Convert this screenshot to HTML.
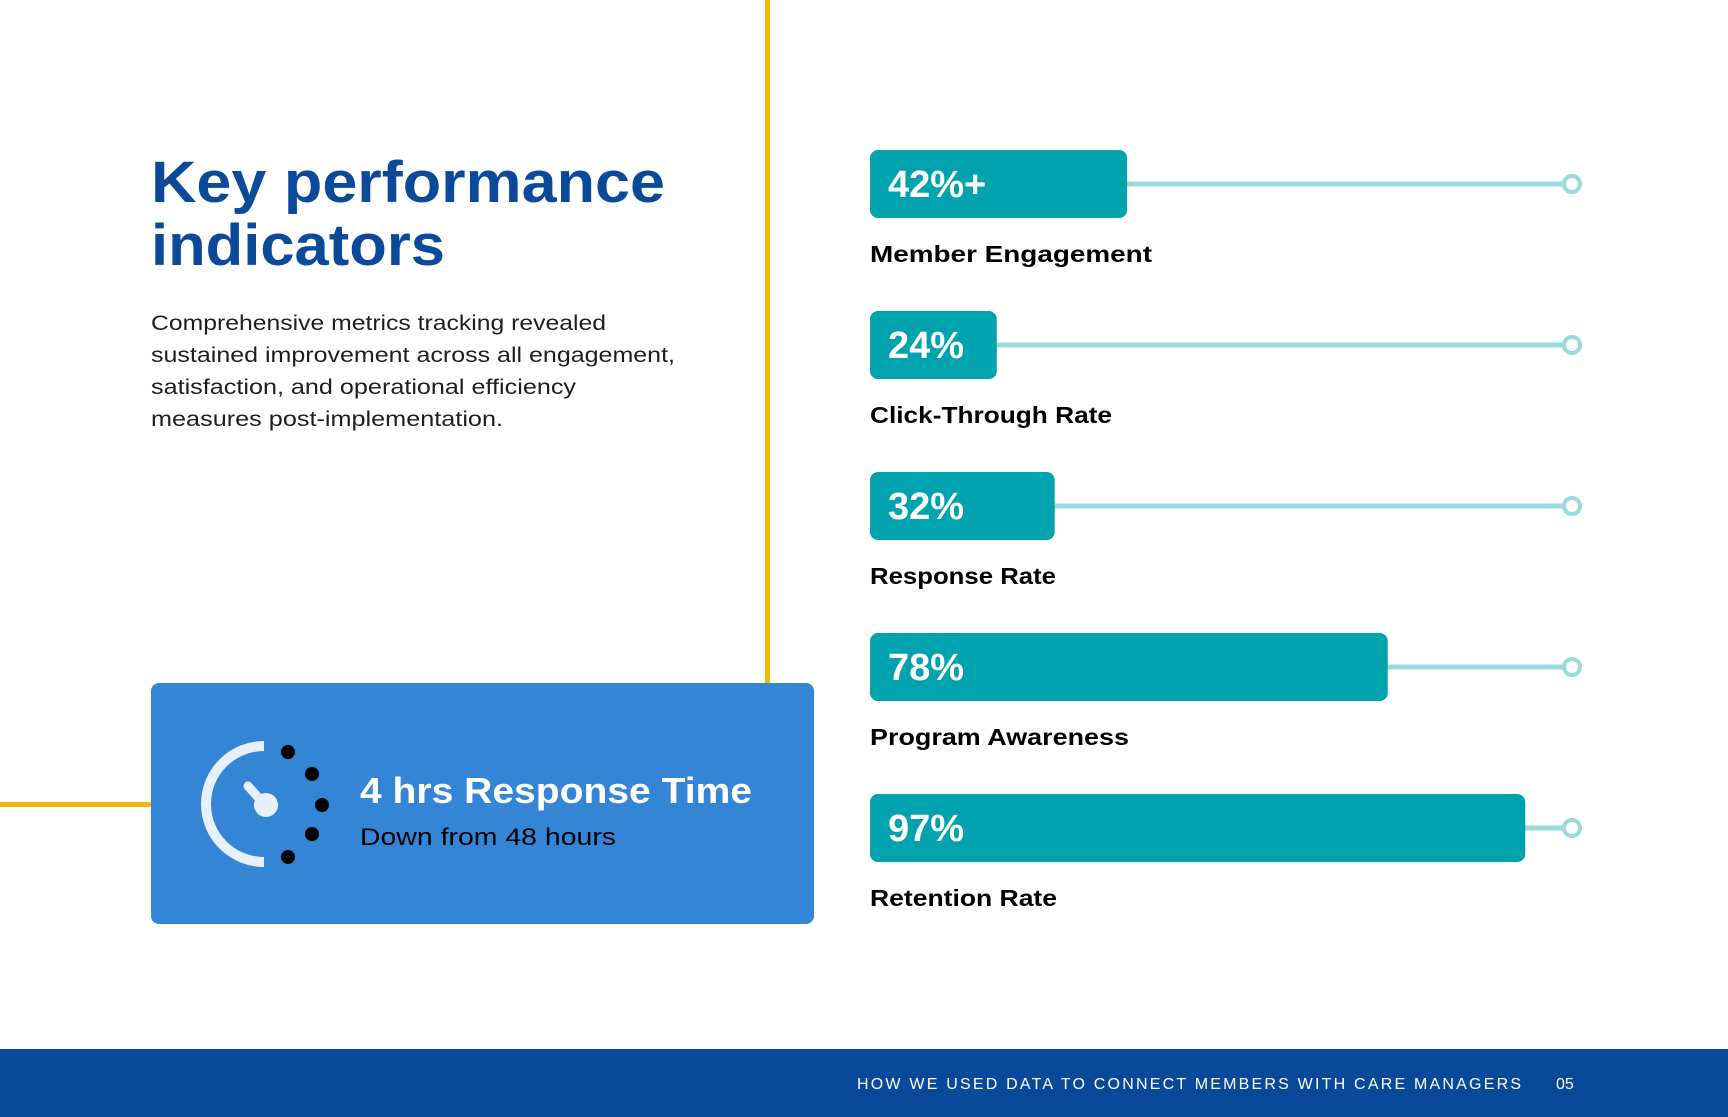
<!DOCTYPE html>
<html><head><meta charset="utf-8"><style>
html,body{margin:0;padding:0;background:#fff;}
svg{display:block;font-family:"Liberation Sans",sans-serif;}
</style></head><body>
<svg id="page" width="1728" height="1117" viewBox="0 0 1728 1117">
  <rect x="765" y="0" width="5" height="683" fill="#f7b500"/>
  <rect x="0" y="802" width="151" height="5" fill="#f7b500"/>
  <text x="151" y="202" font-size="58" font-weight="bold" fill="#0b4a9a" textLength="514" lengthAdjust="spacingAndGlyphs">Key performance</text>
  <text x="151" y="265" font-size="58" font-weight="bold" fill="#0b4a9a" textLength="294" lengthAdjust="spacingAndGlyphs">indicators</text>
  <g font-size="21" fill="#1e1e1e">
    <text x="151" y="330" textLength="455" lengthAdjust="spacingAndGlyphs">Comprehensive metrics tracking revealed</text>
    <text x="151" y="362" textLength="524" lengthAdjust="spacingAndGlyphs">sustained improvement across all engagement,</text>
    <text x="151" y="394" textLength="425" lengthAdjust="spacingAndGlyphs">satisfaction, and operational efficiency</text>
    <text x="151" y="426" textLength="352" lengthAdjust="spacingAndGlyphs">measures post-implementation.</text>
  </g>
  <g>
    <rect x="151" y="683" width="663" height="241" rx="8" fill="#3585d6"/>
    <g>
      <path d="M 264 746 A 58 58 0 0 0 264 862" fill="none" stroke="#e6f0fc" stroke-width="10"/>
      <line x1="248" y1="786" x2="264" y2="804" stroke="#e6f0fc" stroke-width="9" stroke-linecap="round"/>
      <circle cx="266" cy="805" r="12" fill="#e6f0fc"/>
      <circle cx="288" cy="752" r="7" fill="#000"/>
      <circle cx="312" cy="774" r="7" fill="#000"/>
      <circle cx="322" cy="805" r="7" fill="#000"/>
      <circle cx="312" cy="834" r="7" fill="#000"/>
      <circle cx="288" cy="857" r="7" fill="#000"/>
    </g>
    <text x="360" y="803" font-size="36" font-weight="bold" fill="#fff" textLength="392" lengthAdjust="spacingAndGlyphs">4 hrs Response Time</text>
    <text x="360" y="845" font-size="24" fill="#000" textLength="256" lengthAdjust="spacingAndGlyphs">Down from 48 hours</text>
  </g>
  <g id="bars"></g>
  <rect x="0" y="1049" width="1728" height="68" fill="#084a99"/>
  <text x="857" y="1089" font-size="16" fill="#fff" textLength="664" lengthAdjust="spacing">HOW WE USED DATA TO CONNECT MEMBERS WITH CARE MANAGERS</text>
  <text x="1556" y="1089" font-size="16" fill="#fff">05</text>
</svg>
<script>
const categories = ["Member Engagement","Click-Through Rate","Response Rate","Program Awareness","Retention Rate"];
const values = [42,24,32,78,97];
const valueLabels = ["42%+","24%","32%","78%","97%"];

const NS="http://www.w3.org/2000/svg";
const g=document.getElementById('bars');
const x0=870, trackEnd=1572, top0=150, step=161, barH=68;
function xw(v){return -47+7.24*v;}
function yTop(i){return top0+i*step;}
function mk(tag,attrs){const e=document.createElementNS(NS,tag);for(const k in attrs)e.setAttribute(k,attrs[k]);return e;}
const labelLen=[282,242,186,259,187];
categories.forEach((c,i)=>{
  const y=yTop(i), w=xw(values[i]);
  const track=mk('line',{x1:x0,y1:y+barH/2,x2:trackEnd-9,y2:y+barH/2,stroke:'#9ad9dc','stroke-width':5});
  
  
  g.appendChild(track);
  const end=mk('circle',{cx:trackEnd,cy:y+barH/2,r:8,fill:'#fff',stroke:'#9ad9dc','stroke-width':4});
  
  
  g.appendChild(end);
  const bar=mk('rect',{x:x0,y:y,width:w,height:barH,rx:8,fill:'#00a3ad'});
  
  
  g.appendChild(bar);
  const vt=mk('text',{x:888,y:y+47,'font-size':38,'font-weight':'bold',fill:'#fff'});
  vt.textContent=valueLabels[i];
  
  
  g.appendChild(vt);
  const lt=mk('text',{x:870,y:y+112,'font-size':23,'font-weight':'bold',fill:'#000',textLength:labelLen[i],lengthAdjust:'spacingAndGlyphs'});
  lt.textContent=c;
  
  
  g.appendChild(lt);
});
</script>
</body></html>
